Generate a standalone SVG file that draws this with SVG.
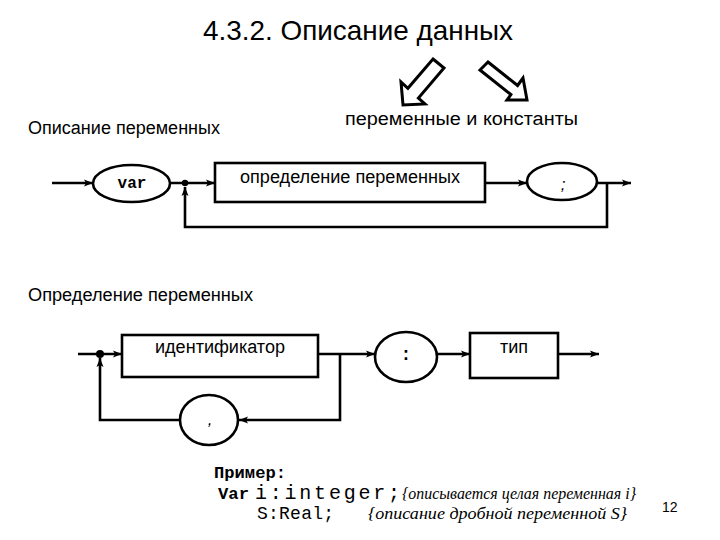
<svg xmlns="http://www.w3.org/2000/svg" width="720" height="540" viewBox="0 0 720 540">
<defs>
<marker id="ah" markerWidth="10" markerHeight="8" refX="9" refY="4" orient="auto" markerUnits="userSpaceOnUse">
<path d="M0,0.5 L9,4 L0,7.5 L2,4 Z" fill="#000"/>
</marker>
<style>
.sans{font-family:"Liberation Sans",Arial,sans-serif;fill:#000}
.mono{font-family:"Liberation Mono","Courier New",monospace;fill:#000}
.it{font-family:"Liberation Serif","Times New Roman",serif;font-style:italic;fill:#000}
.box{fill:#fff;stroke:#000;stroke-width:2.6}
.ln{fill:none;stroke:#000;stroke-width:2.6}
.arr{fill:#fff;stroke:#000;stroke-width:3;stroke-linejoin:miter}
</style>
</defs>
<rect width="720" height="540" fill="#fff"/>
<text class="sans" x="203" y="40" font-size="28" textLength="310" lengthAdjust="spacingAndGlyphs">4.3.2. Описание данных</text>
<g id="arrows-big">
<polygon class="arr" points="433,59 444,68 418.4,98 425,104 403,105 401,82 407.9,88.3"/>
<polygon class="arr" points="488,62 517.6,85.5 523,78 527,100 507,100 510.9,94.6 480,70"/>
</g>
<text class="sans" x="345" y="125" font-size="18" textLength="233" lengthAdjust="spacingAndGlyphs">переменные и константы</text>
<text class="sans" x="28" y="134" font-size="18" textLength="192" lengthAdjust="spacingAndGlyphs">Описание переменных</text>
<text class="sans" x="28" y="301" font-size="18" textLength="225" lengthAdjust="spacingAndGlyphs">Определение переменных</text>
<g id="connectors">
<line class="ln" x1="52" y1="183" x2="93" y2="183" marker-end="url(#ah)"/>
<line class="ln" x1="170" y1="183" x2="215" y2="183" marker-end="url(#ah)"/>
<line class="ln" x1="485" y1="183" x2="527" y2="183" marker-end="url(#ah)"/>
<line class="ln" x1="597" y1="183" x2="631" y2="183" marker-end="url(#ah)"/>
<path class="ln" d="M607,183 V227 H185 V187" marker-end="url(#ah)"/>
<circle cx="185" cy="183" r="3.2" fill="#000"/>
<line class="ln" x1="78" y1="354" x2="122" y2="354" marker-end="url(#ah)"/>
<line class="ln" x1="318" y1="354" x2="375" y2="354" marker-end="url(#ah)"/>
<line class="ln" x1="437" y1="354" x2="470" y2="354" marker-end="url(#ah)"/>
<line class="ln" x1="558" y1="354" x2="599" y2="354" marker-end="url(#ah)"/>
<path class="ln" d="M340,354 V420 H239" marker-end="url(#ah)"/>
<path class="ln" d="M180,420 H100 V358" marker-end="url(#ah)"/>
<circle cx="100" cy="354" r="4" fill="#000"/>
</g>
<g id="n-var">
<ellipse class="box" cx="131.5" cy="183.5" rx="38.5" ry="18.5"/>
<text class="mono" x="132" y="188" font-size="16" font-weight="bold" text-anchor="middle">var</text>
</g>
<g id="n-opred">
<rect class="box" x="215" y="163" width="270" height="39"/>
<text class="sans" x="240" y="183" font-size="18" textLength="220" lengthAdjust="spacingAndGlyphs">определение переменных</text>
</g>
<g id="n-semi">
<ellipse class="box" cx="562" cy="181.5" rx="35" ry="18.5"/>
<text class="sans" x="563" y="190" font-size="17" font-style="italic" text-anchor="middle">;</text>
</g>
<g id="n-ident">
<rect class="box" x="122" y="335" width="196" height="42"/>
<text class="sans" x="220" y="353" font-size="18" text-anchor="middle" textLength="130" lengthAdjust="spacingAndGlyphs">идентификатор</text>
</g>
<g id="n-colon">
<ellipse class="box" cx="406" cy="357" rx="31" ry="25"/>
<text class="mono" x="406" y="360" font-size="18" font-weight="bold" text-anchor="middle">:</text>
</g>
<g id="n-tip">
<rect class="box" x="470" y="333" width="88" height="45"/>
<text class="sans" x="514" y="353" font-size="18" text-anchor="middle">тип</text>
</g>
<g id="n-comma">
<ellipse class="box" cx="209" cy="420" rx="29" ry="25"/>
<text class="sans" x="210" y="425" font-size="17" font-style="italic" text-anchor="middle">,</text>
</g>
<g id="example">
<text class="mono" x="214" y="478" font-size="17" font-weight="bold" textLength="72" lengthAdjust="spacingAndGlyphs">Пример:</text>
<text class="mono" x="218" y="499" font-size="17" font-weight="bold" textLength="31" lengthAdjust="spacingAndGlyphs">Var</text>
<text class="mono" x="255" y="499" font-size="20" textLength="145" lengthAdjust="spacing">i:integer;</text>
<text class="it" x="402" y="499" font-size="17.5" textLength="234" lengthAdjust="spacingAndGlyphs">{описывается целая переменная i}</text>
<text class="mono" x="257" y="519" font-size="18" textLength="77" lengthAdjust="spacing">S:Real;</text>
<text class="it" x="368" y="519" font-size="17.5" textLength="259" lengthAdjust="spacingAndGlyphs">{описание дробной переменной S}</text>
</g>
<text class="sans" x="662" y="512" font-size="14">12</text>
</svg>
